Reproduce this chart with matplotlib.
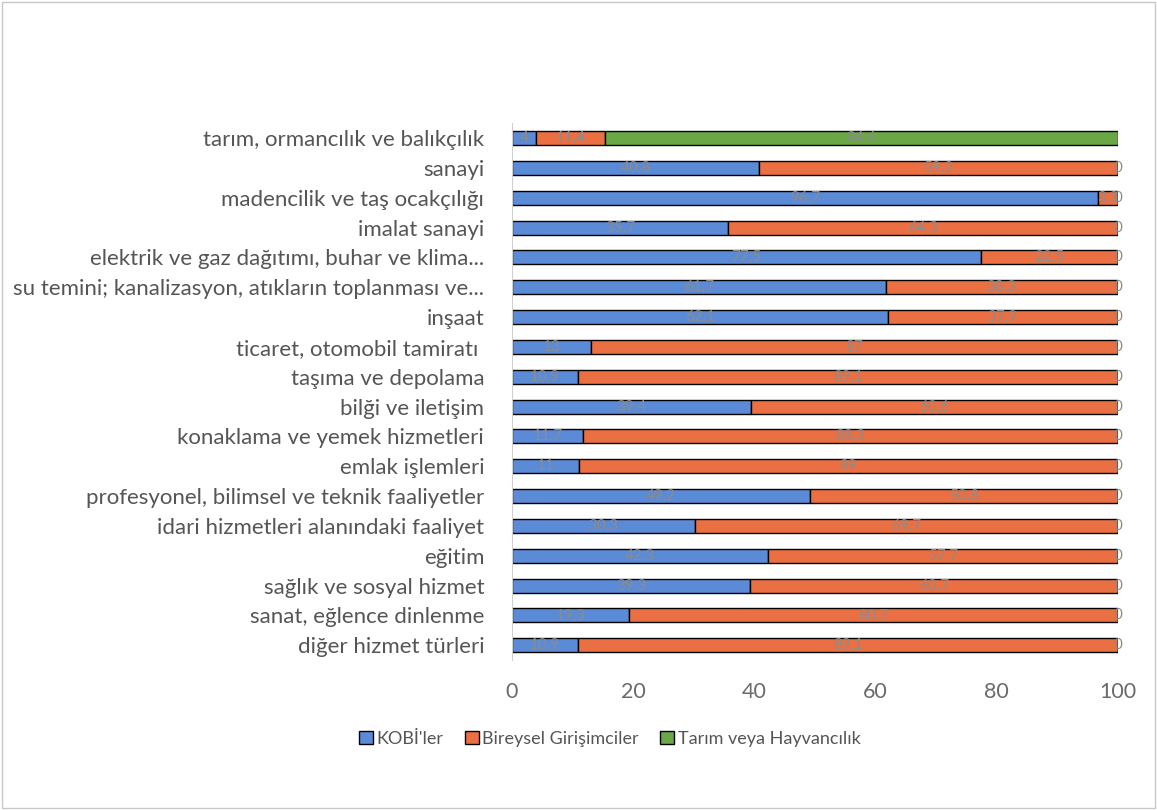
import matplotlib.pyplot as plt
import numpy as np
from matplotlib.patches import Rectangle

plt.rcParams['font.family'] = ['Lato', 'DejaVu Sans']

categories = [
    "tarım, ormancılık ve balıkçılık",
    "sanayi",
    "madencilik ve taş ocakçılığı",
    "imalat sanayi",
    "elektrik ve gaz dağıtımı, buhar ve klima...",
    "su temini; kanalizasyon, atıkların toplanması ve...",
    "inşaat",
    "ticaret, otomobil tamiratı ",
    "taşıma ve depolama",
    "bilği ve iletişim",
    "konaklama ve yemek hizmetleri",
    "emlak işlemleri",
    "profesyonel, bilimsel ve teknik faaliyetler",
    "idari hizmetleri alanındaki faaliyet",
    "eğitim",
    "sağlık ve sosyal hizmet",
    "sanat, eğlence dinlenme",
    "diğer hizmet türleri",
]
kobi = [4, 40.8, 96.7, 35.7, 77.5, 61.7, 62.1, 13, 10.9, 39.4, 11.7, 11, 49.2, 30.3, 42.3, 39.3, 19.3, 10.9]
bireysel = [11.4, 59.2, 3.3, 64.3, 22.5, 38.3, 37.9, 87, 89.1, 60.6, 88.3, 89, 50.8, 69.7, 57.7, 60.7, 80.7, 89.1]
tarim = [84.6, 0, 0, 0, 0, 0, 0, 0, 0, 0, 0, 0, 0, 0, 0, 0, 0, 0]

series = [("KOBİ'ler", kobi, '#5b8ad6'),
          ("Bireysel Girişimciler", bireysel, '#ea7044'),
          ("Tarım veya Hayvancılık", tarim, '#6aa846')]

fig = plt.figure(figsize=(11.57, 8.10), dpi=100)
ax = fig.add_axes([0.4425, 0.185, 0.5235, 0.663])

y = np.arange(len(categories))
left = np.zeros(len(categories))
for name, vals, col in series:
    vals = np.array(vals, dtype=float)
    ax.barh(y, vals, left=left, height=0.47, color=col, edgecolor='black', linewidth=1.0, label=name)
    for yi, (l, v) in enumerate(zip(left, vals)):
        txt = ('%g' % v).replace('.', ',')
        ax.text(l + v / 2, yi, txt, ha='center', va='center', fontsize=11, color='#8c8c8c')
    left = left + vals

ax.set_ylim(len(categories) - 0.5, -0.5)
ax.set_xlim(0, 100)
ax.set_yticks(y)
ax.set_yticklabels(categories, fontsize=16, color='#555555')
ax.set_xticks(np.arange(0, 101, 20))
ax.tick_params(axis='x', labelsize=15.5, labelcolor='#6a6a6a', length=0, pad=16)
ax.tick_params(axis='y', length=0, pad=20)
for s in ['top', 'right', 'bottom']:
    ax.spines[s].set_visible(False)
ax.spines['left'].set_color('#d0d0d0')

handles = [Rectangle((0, 0), 1, 1, facecolor=c, edgecolor='black', linewidth=1.0) for _, _, c in series]
fig.legend(handles, [n for n, _, _ in series], loc='center', bbox_to_anchor=(0.527, 0.088),
           ncol=3, frameon=False, fontsize=13, handlelength=0.75, handleheight=0.75,
           handletextpad=0.2, columnspacing=1.2, labelcolor='#555555')

fig.add_artist(Rectangle((0.002, 0.003), 0.996, 0.994, transform=fig.transFigure,
                         fill=False, edgecolor='#c8c8c8', linewidth=1))

fig.savefig('out.png', dpi=100)
